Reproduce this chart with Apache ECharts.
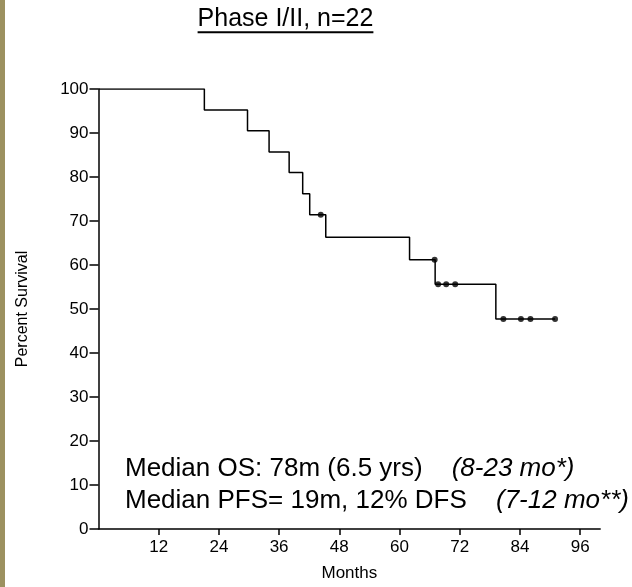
<!DOCTYPE html>
<html>
<head>
<meta charset="utf-8">
<title>Phase I/II, n=22</title>
<script src="https://cdn.jsdelivr.net/npm/echarts@6/dist/echarts.min.js"></script>
<style>
  html, body { margin: 0; padding: 0; background: #fff; }
  #chart { width: 632px; height: 587px; }
</style>
</head>
<body>
<div id="chart"></div>
<script>
// Kaplan-Meier steps: month of each drop and survival after it
var stepMonths = [0, 21.1, 29.7, 34.0, 38.0, 40.7, 42.1, 45.3, 62.0, 67.1, 79.2, 91.0];
var stepSurvival = [100, 95.2, 90.5, 85.7, 81.0, 76.2, 71.4, 66.3, 61.2, 55.6, 47.7, 47.7];

// censored patients (dots)
var censorMonths = [44.3, 67.0, 67.7, 69.3, 71.1, 80.7, 84.2, 86.1, 91.0];
var censorSurvival = [71.4, 61.2, 55.6, 55.6, 55.6, 47.7, 47.7, 47.7, 47.7];

// tick labels
var monthTicks = [12, 24, 36, 48, 60, 72, 84, 96];
var percentTicks = [0, 10, 20, 30, 40, 50, 60, 70, 80, 90, 100];

var titleText = 'Phase I/II, n=22';
var osText = 'Median OS: 78m (6.5 yrs)';
var osRange = '(8-23 mo*)';
var pfsText = 'Median PFS= 19m, 12% DFS';
var pfsRange = '(7-12 mo**)';

var font = 'Liberation Sans, Arial, Helvetica, sans-serif';

function pairs(xs, ys) {
  return xs.map(function (x, i) { return [x, ys[i]]; });
}

var chart = echarts.init(document.getElementById('chart'));

chart.setOption({
  animation: false,
  backgroundColor: '#fff',
  textStyle: { fontFamily: font, color: '#000' },
  grid: { left: 98.5, right: 31.8, top: 89, bottom: 55.5 },
  xAxis: {
    type: 'value',
    min: 0,
    max: 100,
    name: 'Months',
    nameLocation: 'middle',
    nameGap: 36,
    nameTextStyle: { fontSize: 17, color: '#000', fontFamily: font },
    splitLine: { show: false },
    axisLine: { lineStyle: { color: '#000', width: 1.5 } },
    axisTick: { length: 6, customValues: monthTicks, lineStyle: { color: '#000', width: 1.5 } },
    axisLabel: { customValues: monthTicks, margin: 10, fontSize: 17, color: '#000', fontFamily: font }
  },
  yAxis: {
    type: 'value',
    min: 0,
    max: 100,
    interval: 10,
    name: 'Percent Survival',
    nameLocation: 'middle',
    nameGap: 68,
    nameTextStyle: { fontSize: 16, color: '#000', fontFamily: font },
    splitLine: { show: false },
    axisLine: { show: true, lineStyle: { color: '#000', width: 1.5 } },
    axisTick: { show: true, length: 9, customValues: percentTicks, lineStyle: { color: '#000', width: 1.5 } },
    axisLabel: { customValues: percentTicks, margin: 10, fontSize: 17, color: '#000', fontFamily: font }
  },
  series: [
    {
      type: 'line',
      step: 'end',
      symbol: 'none',
      data: pairs(stepMonths, stepSurvival),
      lineStyle: { color: '#000', width: 1.5 }
    },
    {
      type: 'scatter',
      symbol: 'circle',
      symbolSize: 6,
      data: pairs(censorMonths, censorSurvival),
      itemStyle: { color: '#000' }
    }
  ],
  graphic: [
    // olive strip on the left edge
    { type: 'rect', left: 0, top: 0, shape: { width: 5, height: 587 }, style: { fill: '#9c9160' }, silent: true },
    // underlined heading
    {
      type: 'text', x: 285.5, y: 19.5,
      style: { text: titleText, font: '25px ' + font, fill: '#000', align: 'center', verticalAlign: 'middle' }
    },
    {
      type: 'line',
      shape: { x1: 197.6, y1: 32.3, x2: 373.4, y2: 32.3 },
      style: { stroke: '#000', lineWidth: 2 }
    },
    // median annotations
    {
      type: 'text', x: 125, y: 469,
      style: { text: osText, font: '26px ' + font, fill: '#000', align: 'left', verticalAlign: 'middle' }
    },
    {
      type: 'text', x: 451.7, y: 469,
      style: { text: osRange, font: 'italic 26px ' + font, fill: '#000', align: 'left', verticalAlign: 'middle' }
    },
    {
      type: 'text', x: 125, y: 501,
      style: { text: pfsText, font: '26px ' + font, fill: '#000', align: 'left', verticalAlign: 'middle' }
    },
    {
      type: 'text', x: 496, y: 501,
      style: { text: pfsRange, font: 'italic 26px ' + font, fill: '#000', align: 'left', verticalAlign: 'middle' }
    }
  ]
});
</script>
</body>
</html>
